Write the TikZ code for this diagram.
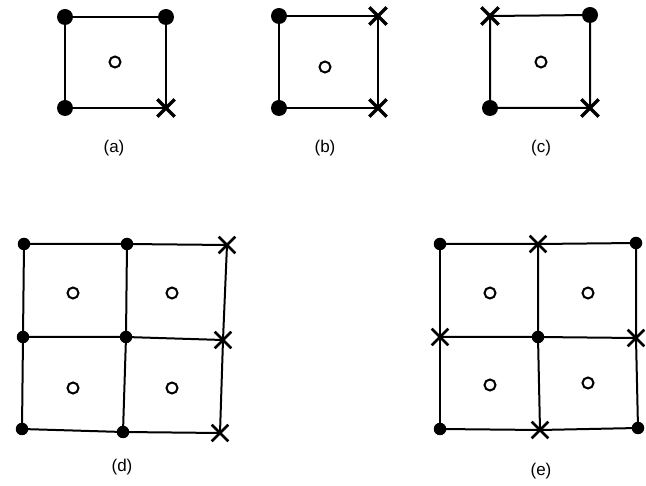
\documentclass[tikz,border=0pt]{standalone}
\usepackage{fontspec}
\setmainfont{Liberation Sans}
\usetikzlibrary{shapes.misc}
\tikzset{
  edge/.style={line width=2pt},
  dotmark/.style={circle, fill=black, inner sep=0pt, minimum size=16pt},
  dotsmall/.style={circle, fill=black, inner sep=0pt, minimum size=12.5pt},
  xmark/.style={cross out, draw=black, line width=3.4pt, inner sep=0pt, minimum size=14pt},
  xthin/.style={cross out, draw=black, line width=2.6pt, inner sep=0pt, minimum size=14pt},
  ring/.style={circle, draw=black, line width=2pt, inner sep=0pt, minimum size=11pt},
  lab/.style={font=\fontsize{17}{19}\selectfont}
}
\begin{document}
\begin{tikzpicture}[x=1pt,y=-1pt]
\useasboundingbox (0,0) rectangle (646,486);
\fill[white] (0,0) rectangle (646,486);
% ---------- (a)
\coordinate (a1) at (65,17); \coordinate (a2) at (166,17);
\coordinate (a3) at (65,108); \coordinate (a4) at (166,108);
\draw[edge] (a1) -- (a2) -- (a4) -- (a3) -- cycle;
\node[dotmark] (ma1) at (a1) {}; \node[dotmark] (ma2) at (a2) {};
\node[dotmark] (ma3) at (a3) {}; \node[xmark] (ma4) at (a4) {};
\node[ring] (ca) at (115,62) {};
\node[lab] (la) at (114,148) {(a)};
% ---------- (b)
\coordinate (b1) at (279,16); \coordinate (b2) at (378,16);
\coordinate (b3) at (279,108); \coordinate (b4) at (378,108);
\draw[edge] (b1) -- (b2) -- (b4) -- (b3) -- cycle;
\node[dotmark] (mb1) at (b1) {}; \node[xmark] (mb2) at (b2) {};
\node[dotmark] (mb3) at (b3) {}; \node[xmark] (mb4) at (b4) {};
\node[ring] (cb) at (325,67) {};
\node[lab] (lb) at (325,148) {(b)};
% ---------- (c)
\coordinate (c1) at (490,16); \coordinate (c2) at (590,15);
\coordinate (c3) at (490,108); \coordinate (c4) at (590,108);
\draw[edge] (c1) -- (c2) -- (c4) -- (c3) -- cycle;
\node[xmark] (mc1) at (c1) {}; \node[dotmark] (mc2) at (c2) {};
\node[dotmark] (mc3) at (c3) {}; \node[xmark] (mc4) at (c4) {};
\node[ring] (cc) at (541,62) {};
\node[lab] (lc) at (541,148) {(c)};
% ---------- (d)
\coordinate (d11) at (24,244); \coordinate (d12) at (127,244); \coordinate (d13) at (227,245);
\coordinate (d21) at (23,337); \coordinate (d22) at (126,337); \coordinate (d23) at (223,340);
\coordinate (d31) at (22,429); \coordinate (d32) at (123,432); \coordinate (d33) at (220,433);
\draw[edge] (d11) -- (d12) -- (d13);
\draw[edge] (d21) -- (d22) -- (d23);
\draw[edge] (d31) -- (d32) -- (d33);
\draw[edge] (d11) -- (d21) -- (d31);
\draw[edge] (d12) -- (d22) -- (d32);
\draw[edge] (d13) -- (d23) -- (d33);
\node[dotsmall] (md11) at (d11) {}; \node[dotsmall] (md12) at (d12) {}; \node[xthin] (md13) at (d13) {};
\node[dotsmall] (md21) at (d21) {}; \node[dotsmall] (md22) at (d22) {}; \node[xthin] (md23) at (d23) {};
\node[dotsmall] (md31) at (d31) {}; \node[dotsmall] (md32) at (d32) {}; \node[xthin] (md33) at (d33) {};
\node[ring] (cd1) at (73,293) {}; \node[ring] (cd2) at (172,293) {};
\node[ring] (cd3) at (73,388) {}; \node[ring] (cd4) at (172,388) {};
\node[lab] (ld) at (122,467) {(d)};
% ---------- (e)
\coordinate (e11) at (440,244); \coordinate (e12) at (538,244); \coordinate (e13) at (636,243);
\coordinate (e21) at (440,337); \coordinate (e22) at (538,337); \coordinate (e23) at (636,338);
\coordinate (e31) at (440,429); \coordinate (e32) at (540,430); \coordinate (e33) at (638,428);
\draw[edge] (e11) -- (e12) -- (e13);
\draw[edge] (e21) -- (e22) -- (e23);
\draw[edge] (e31) -- (e32) -- (e33);
\draw[edge] (e11) -- (e21) -- (e31);
\draw[edge] (e12) -- (e22) -- (e32);
\draw[edge] (e13) -- (e23) -- (e33);
\node[dotsmall] (me11) at (e11) {}; \node[xthin] (me12) at (e12) {}; \node[dotsmall] (me13) at (e13) {};
\node[xthin] (me21) at (e21) {}; \node[dotsmall] (me22) at (e22) {}; \node[xthin] (me23) at (e23) {};
\node[dotsmall] (me31) at (e31) {}; \node[xthin] (me32) at (e32) {}; \node[dotsmall] (me33) at (e33) {};
\node[ring] (ce1) at (490,293) {}; \node[ring] (ce2) at (588,293) {};
\node[ring] (ce3) at (490,385) {}; \node[ring] (ce4) at (588,383) {};
\node[lab] (le) at (541,471) {(e)};
\end{tikzpicture}
\end{document}
